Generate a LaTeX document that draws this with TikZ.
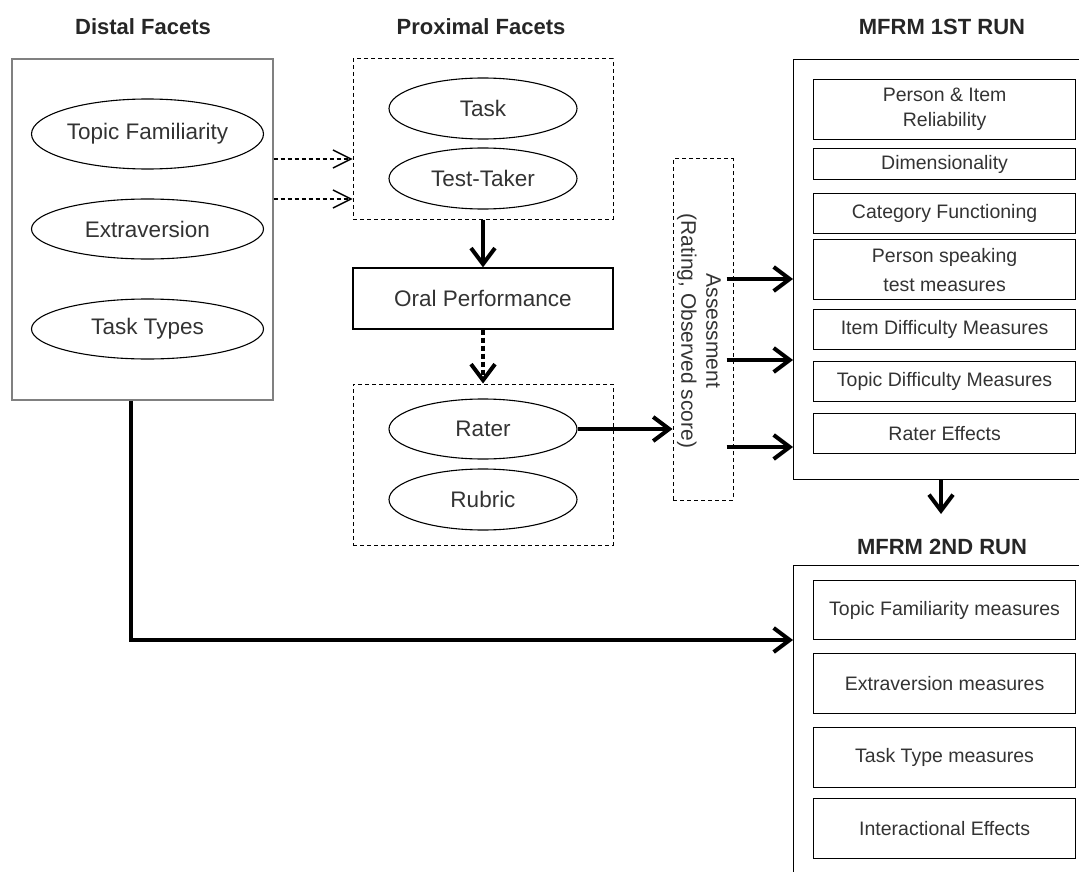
\documentclass[tikz,border=0pt]{standalone}
\usepackage{fontspec}
\setmainfont{Liberation Sans}
\usetikzlibrary{arrows.meta,shapes.geometric,calc}
\begin{document}
\begin{tikzpicture}[x=1pt,y=-1pt,
  ttl/.style={font=\fontsize{22}{26}\selectfont\bfseries, text=black!85},
  ell/.style={ellipse, draw, line width=1.1pt, inner sep=0pt, font=\fontsize{22.5}{27}\selectfont, text=black!80},
  ibox/.style={draw, line width=1.2pt, minimum width=262pt, inner sep=0pt, font=\fontsize{19.5}{25}\selectfont, text=black!80, align=center, anchor=north west},
  dbox/.style={draw, dash pattern=on 4pt off 3pt, line width=1pt, inner sep=0pt},
  bigarrow/.style={line width=4pt, -{Straight Barb[length=16pt,width=24pt]}},
  thinarrow/.style={line width=1.1pt, dash pattern=on 4pt off 3pt, -{Straight Barb[length=18pt,width=18pt,line width=1.4pt]}}
]
\useasboundingbox (0,0) rectangle (1079,872);

% titles
\node[ttl] (t1) at (143,27) {Distal Facets};
\node[ttl] (t2) at (481,27) {Proximal Facets};
\node[ttl] (t3) at (942,27) {MFRM 1ST RUN};
\node[ttl] (t4) at (942,547) {MFRM 2ND RUN};

% distal
\node[draw=black!50, line width=1.1pt, minimum width=261pt, minimum height=341pt, inner sep=0pt] (distal) at (142.5,229.5) {};
\node[ell, minimum width=232pt, minimum height=70pt] (tf) at (147.5,134) {Topic Familiarity};
\node[ell, minimum width=232pt, minimum height=60pt] (ex) at (147.5,229) {Extraversion};
\node[ell, minimum width=232pt, minimum height=60pt] (tt) at (147.5,329) {Task Types};

% proximal
\node[dbox, minimum width=260pt, minimum height=160pt] (prox1) at (483,139) {};
\node[ell, minimum width=188pt, minimum height=61pt] (task) at (483,108.5) {Task};
\node[ell, minimum width=188pt, minimum height=61pt] (taker) at (483,178.5) {Test-Taker};
\node[draw, line width=1.2pt, minimum width=260pt, minimum height=61pt, inner sep=0pt, font=\fontsize{22.5}{27}\selectfont, text=black!80] (oral) at (483,298.5) {Oral Performance};
\node[dbox, minimum width=260pt, minimum height=161pt] (prox2) at (483,464.5) {};
\node[ell, minimum width=188pt, minimum height=60pt] (rater) at (483,429) {Rater};
\node[ell, minimum width=188pt, minimum height=61pt] (rubric) at (483,499.5) {Rubric};

% assessment
\node[dbox, minimum width=60pt, minimum height=341pt] (assess) at (703,329.5) {};
\node[rotate=-90, align=center, font=\fontsize{21}{25}\selectfont, text=black!80] (assesst) at (699,331) {Assessment\\(Rating, Observed score)};

% MFRM 1
\node[draw, line width=1.4pt, minimum width=300pt, minimum height=420pt, inner sep=0pt, anchor=north west] (mfrm1) at (793,59) {};
\node[ibox, minimum height=60pt] (b1) at (813,79) {Person \& Item\\Reliability};
\node[ibox, minimum height=31pt] (b2) at (813,148) {Dimensionality};
\node[ibox, minimum height=40pt] (b3) at (813,193) {Category Functioning};
\node[ibox, minimum height=60pt, font=\fontsize{19.5}{29}\selectfont] (b4) at (813,239) {Person speaking\\test measures};
\node[ibox, minimum height=40pt] (b5) at (813,309) {Item Difficulty Measures};
\node[ibox, minimum height=40pt] (b6) at (813,361) {Topic Difficulty Measures};
\node[ibox, minimum height=40pt] (b7) at (813,413) {Rater Effects};

% MFRM 2
\node[draw, line width=1.4pt, minimum width=300pt, minimum height=340pt, inner sep=0pt, anchor=north west] (mfrm2) at (793,565) {};
\node[ibox, minimum height=59pt] (c1) at (813,580) {Topic Familiarity measures};
\node[ibox, minimum height=60pt] (c2) at (813,653) {Extraversion measures};
\node[ibox, minimum height=60pt] (c3) at (813,727) {Task Type measures};
\node[ibox, minimum height=60pt] (c4) at (813,798) {Interactional Effects};

% connectors
\draw[thinarrow] (distal.east |- 0,159) -- (prox1.west |- 0,159);
\draw[thinarrow] (distal.east |- 0,199) -- (prox1.west |- 0,199);
\draw[bigarrow] (prox1.south) -- (oral.north);
\draw[line width=4pt, dash pattern=on 5pt off 3pt, -{Straight Barb[length=16pt,width=24pt]}] (oral.south) -- (prox2.north);
\draw[bigarrow] (rater.east) -- (rater.east -| assess.west);
\draw[bigarrow] ($(assess.east |- 0,279)+(-7,0)$) -- (mfrm1.west |- 0,279);
\draw[bigarrow] ($(assess.east |- 0,360)+(-7,0)$) -- (mfrm1.west |- 0,360);
\draw[bigarrow] ($(assess.east |- 0,447)+(-7,0)$) -- (mfrm1.west |- 0,447);
\draw[bigarrow] (941,0 |- mfrm1.south) -- (941,514);
\draw[bigarrow] (131,0 |- distal.south) -- (131,640) -- (mfrm2.west |- 0,640);
\end{tikzpicture}
\end{document}
